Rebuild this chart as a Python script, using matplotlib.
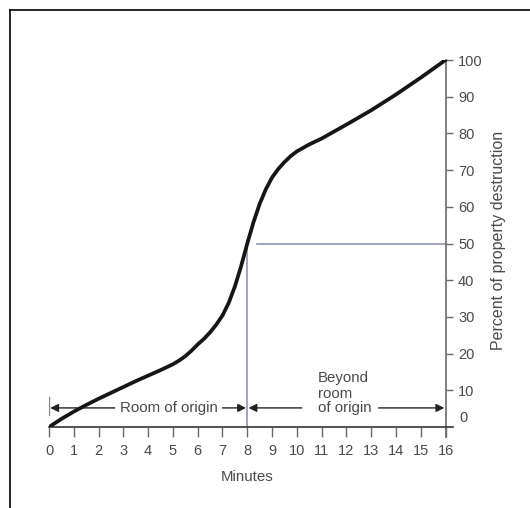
import matplotlib
matplotlib.use('Agg')
import matplotlib.pyplot as plt
from matplotlib.lines import Line2D

# Curve (minutes vs percent of property destruction)
minutes = [0, 0.5, 1, 1.5, 2, 2.5, 3, 3.5, 4, 4.5, 5, 5.25, 5.5, 5.75, 6, 6.25, 6.5, 6.75,
           7, 7.25, 7.5, 7.75, 8, 8.25, 8.5, 8.75, 9, 9.25, 9.5, 9.75, 10, 10.5, 11, 11.5,
           12, 13, 14, 15, 16]
percent = [0, 2.2, 4.2, 6.0, 7.7, 9.3, 10.9, 12.5, 14.0, 15.5, 17.1, 18.1, 19.3, 20.8, 22.5,
           24.0, 25.8, 27.9, 30.4, 33.8, 38.3, 43.8, 50.0, 55.8, 60.8, 64.8, 68.0, 70.3, 72.2,
           73.8, 75.1, 77.0, 78.6, 80.5, 82.4, 86.3, 90.6, 95.2, 100.0]

x_ticks = list(range(0, 17))
y_ticks = list(range(10, 101, 10))

TEXT = '#4a4a4a'
AXIS = '#6a6a6a'
REF = '#9095b2'

plt.rcParams['font.family'] = ['Liberation Sans', 'DejaVu Sans']

W, H = 530, 508
fig = plt.figure(figsize=(W / 100, H / 100), dpi=100)
fig.set_facecolor('white')

# axes placed in pixel terms: x 0 -> 49px, y 0 -> 427px, y 100 -> 60px
x0_px, x1_px = 49, 453
y0_px, y1_px = 427, 60
ax = fig.add_axes([x0_px / W, (H - y0_px) / H, (x1_px - x0_px) / W, (y0_px - y1_px) / H])
ax.set_xlim(0, 16.3)
ax.set_ylim(0, 100)
ax.patch.set_alpha(0)

for s in ['top', 'left']:
    ax.spines[s].set_visible(False)
ax.spines['bottom'].set_color('#333333')
ax.spines['bottom'].set_linewidth(1.2)
ax.spines['right'].set_position(('data', 16))
ax.spines['right'].set_bounds(-2.8, 100)
ax.spines['right'].set_color(AXIS)
ax.spines['right'].set_linewidth(1.2)

ax.set_xticks(x_ticks)
ax.set_xticklabels([str(t) for t in x_ticks])
ax.tick_params(axis='x', direction='out', length=7, width=1, color=AXIS,
               labelsize=10.5, labelcolor=TEXT, pad=5)
ax.yaxis.tick_right()
ax.set_yticks(y_ticks)
ax.set_yticklabels([str(t) for t in y_ticks])
ax.tick_params(axis='y', direction='out', length=5, width=1, color=AXIS,
               labelsize=10.5, labelcolor=TEXT, pad=4)
ax.text(16.55, 2.4, '0', fontsize=10.5, color=TEXT, ha='left', va='center')

# reference lines at 8 minutes / 50 percent
ax.plot([8, 8], [0, 51], color=REF, linewidth=1.2)
ax.plot([8.4, 16], [50, 50], color=REF, linewidth=1.2)
ax.plot([0, 0], [3.3, 8.2], color='#8a8a8a', linewidth=1)

# main curve
ax.plot(minutes, percent, color='#161616', linewidth=2.7, solid_capstyle='round',
        solid_joinstyle='round', zorder=5)

# span arrows
arrow_y = 5.2
ap = dict(arrowstyle='-|>', color='#222222', lw=1, mutation_scale=12, shrinkA=0, shrinkB=0)
ax.annotate('', xy=(0.05, arrow_y), xytext=(2.65, arrow_y), arrowprops=ap)
ax.annotate('', xy=(7.95, arrow_y), xytext=(7.0, arrow_y), arrowprops=ap)
ax.annotate('', xy=(8.05, arrow_y), xytext=(10.2, arrow_y), arrowprops=ap)
ax.annotate('', xy=(15.95, arrow_y), xytext=(13.3, arrow_y), arrowprops=ap)
ax.text(4.84, arrow_y, 'Room of origin', fontsize=10.8, color=TEXT, ha='center', va='center')
ax.text(10.85, arrow_y, 'of origin', fontsize=10.8, color=TEXT, ha='left', va='center')
ax.text(10.85, 9.1, 'room', fontsize=10.8, color=TEXT, ha='left', va='center')
ax.text(10.85, 13.3, 'Beyond', fontsize=10.8, color=TEXT, ha='left', va='center')

ax.text(8, -13.6, 'Minutes', fontsize=10.8, color=TEXT, ha='center', va='center')
ax.text(18.15, 50.7, 'Percent of property destruction', fontsize=11.5, color=TEXT,
        ha='center', va='center', rotation=90)

# page frame (top and left edges)
fig.add_artist(Line2D([10 / W, 1], [1 - 10 / H, 1 - 10 / H], color='black', linewidth=1.2))
fig.add_artist(Line2D([10 / W, 10 / W], [0, 1 - 10 / H], color='black', linewidth=1.2))

fig.savefig('out.png', dpi=100, facecolor='white')
